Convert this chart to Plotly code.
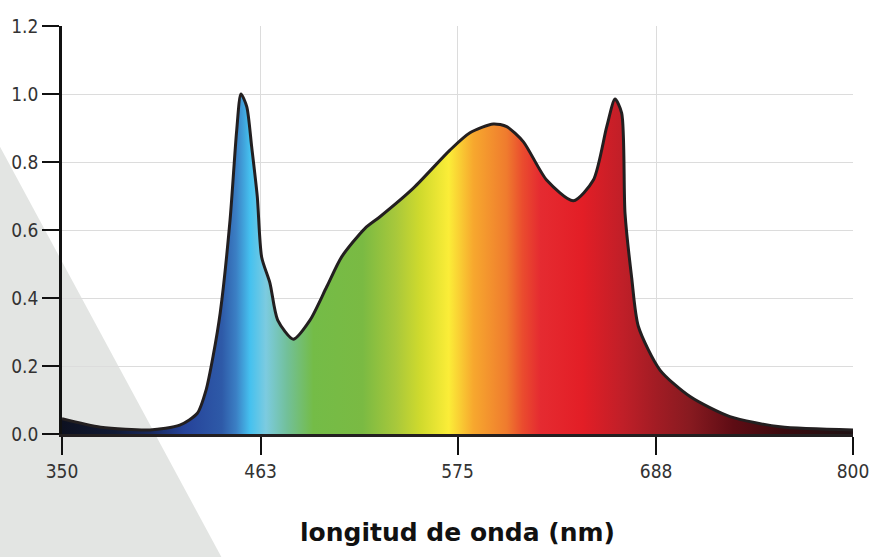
import plotly.graph_objects as go

# ---- data ----
wavelength = [350, 372, 400, 417, 427, 432, 436, 440, 445.6, 449.4, 451.8, 455.1,
              457.9, 461.1, 463.6, 468.3, 472.7, 481.6, 491.1, 500.6, 509.1, 522.4,
              530.9, 549.9, 570.7, 582.1, 595.4, 603, 612.4, 625.7, 640.9, 652.3,
              659.9, 664.6, 668.4, 670.3, 674.1, 677.9, 690.2, 707.3, 730, 758.5, 800]
intensity = [0.045, 0.020, 0.012, 0.026, 0.061, 0.13, 0.23, 0.356, 0.629, 0.894, 1.0, 0.963,
             0.845, 0.698, 0.52, 0.444, 0.335, 0.279, 0.335, 0.433, 0.521, 0.605,
             0.639, 0.723, 0.835, 0.886, 0.912, 0.904, 0.86, 0.747, 0.686, 0.747,
             0.904, 0.985, 0.944, 0.649, 0.459, 0.316, 0.188, 0.110, 0.051, 0.021, 0.012]

x_ticks = [350, 463, 575, 688, 800]
x_tick_labels = ["350", "463", "575", "688", "800"]
y_ticks = [0.0, 0.2, 0.4, 0.6, 0.8, 1.0, 1.2]
y_tick_labels = ["0.0", "0.2", "0.4", "0.6", "0.8", "1.0", "1.2"]

# spectrum colour stops (wavelength nm, colour)
color_nm = [350, 380, 400, 420, 441, 449, 457, 466, 478, 493, 521, 540, 554, 570,
            584, 603, 612, 622, 646, 669, 688, 707, 732, 760, 800]
color_hex = ["#0d1120", "#111a35", "#18285c", "#26439a", "#2e5aa8", "#3b7fc4", "#45c1ef",
             "#7ccbe0", "#72c09a", "#74bc47", "#7aba43", "#a8c83b", "#d0da2d", "#fbed38",
             "#f7a82e", "#ef7b2e", "#ea4c2e", "#e52b31", "#e31e26", "#c01f28", "#a21c24",
             "#881a20", "#5e0c14", "#3b0a0e", "#1e1214"]

X_MIN, X_MAX = 350, 800
Y_MIN, Y_MAX = 0, 1.2

W, H = 873, 557
ML, MR, MT, MB = 62, 20, 26, 123
plot_w = W - ML - MR
plot_h = H - MT - MB

colorscale = [[(n - X_MIN) / (X_MAX - X_MIN), c] for n, c in zip(color_nm, color_hex)]

fig = go.Figure()

fig.add_trace(go.Scatter(
    x=wavelength, y=intensity,
    mode="lines",
    line=dict(color="#231f20", width=3, shape="spline", smoothing=0.7),
    fill="tozeroy",
    fillgradient=dict(type="horizontal", colorscale=colorscale, start=X_MIN, stop=X_MAX),
    hoverinfo="skip", showlegend=False,
))

# dots at the end of tick marks
TICKLEN = 18
dy = TICKLEN / plot_h * (Y_MAX - Y_MIN)
dx = TICKLEN / plot_w * (X_MAX - X_MIN)
fig.add_trace(go.Scatter(
    x=x_ticks, y=[Y_MIN - dy] * len(x_ticks), mode="markers",
    marker=dict(color="#111111", size=6), cliponaxis=False,
    hoverinfo="skip", showlegend=False,
))
fig.add_trace(go.Scatter(
    x=[X_MIN - dx] * len(y_ticks), y=y_ticks, mode="markers",
    marker=dict(color="#111111", size=6), cliponaxis=False,
    hoverinfo="skip", showlegend=False,
))

# decorative grey triangle in the background (paper coordinates)
def px2paper(px, py):
    return (px - ML) / plot_w, (H - MB - py) / plot_h

p1 = px2paper(-2, 143)
p2 = px2paper(223, 560)
p3 = px2paper(-2, 560)
fig.add_shape(
    type="path", xref="paper", yref="paper",
    path=f"M {p1[0]} {p1[1]} L {p2[0]} {p2[1]} L {p3[0]} {p3[1]} Z",
    fillcolor="#e3e5e3", line=dict(width=0), layer="below",
)

tick_font = dict(family="DejaVu Sans Condensed", size=19, color="#333333")

fig.update_layout(
    width=W, height=H,
    margin=dict(l=ML, r=MR, t=MT, b=MB, autoexpand=False),
    paper_bgcolor="white",
    plot_bgcolor="rgba(0,0,0,0)",
    xaxis=dict(
        range=[X_MIN, X_MAX], automargin=False,
        tickvals=x_ticks, ticktext=x_tick_labels, ticklabeloverflow="allow",
        ticks="outside", ticklen=TICKLEN, tickwidth=2, tickcolor="#111111",
        showline=True, linewidth=3, linecolor="#231f20",
        showgrid=True, gridcolor="#dcdcdc", gridwidth=1,
        zeroline=False, tickfont=tick_font,
        title=dict(text="<b>longitud de onda (nm)</b>", standoff=43,
                   font=dict(family="DejaVu Sans, sans-serif", size=25, color="#111111")),
    ),
    yaxis=dict(
        range=[Y_MIN, Y_MAX], automargin=False,
        tickvals=y_ticks, ticktext=y_tick_labels,
        ticks="outside", ticklen=TICKLEN - 1, tickwidth=2, tickcolor="#111111",
        showline=True, linewidth=2.5, linecolor="#111111",
        showgrid=True, gridcolor="#dcdcdc", gridwidth=1,
        zeroline=False, tickfont=tick_font,
    ),
)

# remove the browser's default 8px page margin so the figure fills the window exactly
fig.write_html("out.html",
               config={"displayModeBar": False},
               post_script="document.body.style.margin='0';document.body.style.overflow='hidden';")
